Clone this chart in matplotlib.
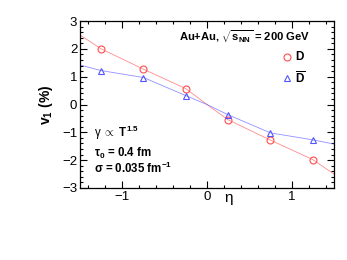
import numpy as np
import matplotlib
matplotlib.use("Agg")
import matplotlib.pyplot as plt
from matplotlib.ticker import MultipleLocator

plt.rcParams['font.family'] = ['Liberation Sans', 'DejaVu Sans']
plt.rcParams['mathtext.fontset'] = 'custom'
plt.rcParams['mathtext.rm'] = 'Liberation Sans'
plt.rcParams['mathtext.bf'] = 'Liberation Sans:bold'
plt.rcParams['mathtext.it'] = 'Liberation Sans:italic'

# points
eta = [-1.25, -0.75, -0.25, 0.25, 0.75, 1.25]
v1_D = [2.0, 1.27, 0.57, -0.55, -1.28, -1.98]
v1_Dbar = [1.22, 0.97, 0.32, -0.37, -1.02, -1.27]

# curves
eta_curve = [-1.5, -1.25, -0.75, -0.25, 0.0, 0.25, 0.75, 1.25, 1.5]
curve_D = [2.5, 2.0, 1.27, 0.57, 0.0, -0.55, -1.28, -1.98, -2.5]
curve_Dbar = [1.42, 1.22, 0.97, 0.32, 0.0, -0.37, -1.02, -1.27, -1.42]

red = '#ff4d4d'
blue = '#5555ff'

fig = plt.figure(figsize=(3.47, 2.6), dpi=100)
ax = fig.add_axes([0.2305, 0.277, 0.732, 0.642])

ax.plot(eta_curve, curve_D, color=red, lw=0.6, alpha=0.65)
ax.plot(eta_curve, curve_Dbar, color=blue, lw=0.6, alpha=0.65)
ax.plot(eta, v1_D, 'o', mfc='none', mec=red, ms=5, mew=0.8)
ax.plot(eta, v1_Dbar, '^', mfc='none', mec=blue, ms=5, mew=0.8)

ax.set_xlim(-1.5, 1.5)
ax.set_ylim(-3, 3)
ax.xaxis.set_minor_locator(MultipleLocator(0.2))
ax.yaxis.set_minor_locator(MultipleLocator(0.2))
ax.tick_params(which='both', direction='in', top=True, right=True, width=0.8)
ax.tick_params(which='major', length=5, labelsize=9.5, pad=2)
ax.tick_params(which='minor', length=2.5)
ax.set_xticks([-1, 0, 1])
ax.set_xticklabels(['\u22121', '0', '1'])
ax.set_yticks([-3, -2, -1, 0, 1, 2, 3])
ax.set_yticklabels(['\u22123', '\u22122', '\u22121', '0', '1', '2', '3'])
for s in ax.spines.values():
    s.set_linewidth(0.9)

ax.set_ylabel(r'$\mathbf{v_1}$ (%)', fontsize=10, fontweight='bold', labelpad=5)
ax.text(0.25, -3.1, '\u03b7', fontsize=11, ha='center', va='top')

ax.text(1.22, 2.45, r'Au+Au, $\sqrt{\mathbf{s_{NN}}}$ = 200 GeV', fontsize=8.1,
        fontweight='bold', ha='right', va='center')
ax.plot([0.94], [1.7], 'o', mfc='none', mec=red, ms=5, mew=0.8)
ax.text(1.04, 1.7, 'D', fontsize=8.5, fontweight='bold', va='center')
ax.plot([0.94], [0.95], '^', mfc='none', mec=blue, ms=5, mew=0.8)
ax.text(1.04, 0.95, r'$\mathbf{\overline{D}}$', fontsize=8.5, va='center')

ax.text(-1.33, -1.03, '$\\mathrm{\u03b3}\\ \\propto\\ \\mathbf{T^{1.5}}$', fontsize=8.3, va='center')
ax.text(-1.33, -1.75, '\u03c4$_{\\mathbf{0}}$ = 0.4 fm', fontsize=8.3, fontweight='bold', va='center')
ax.text(-1.33, -2.3, '\u03c3 = 0.035 fm$^{\\mathbf{-1}}$', fontsize=8.3,
        fontweight='bold', va='center')

fig.savefig('out.png', dpi=100)
